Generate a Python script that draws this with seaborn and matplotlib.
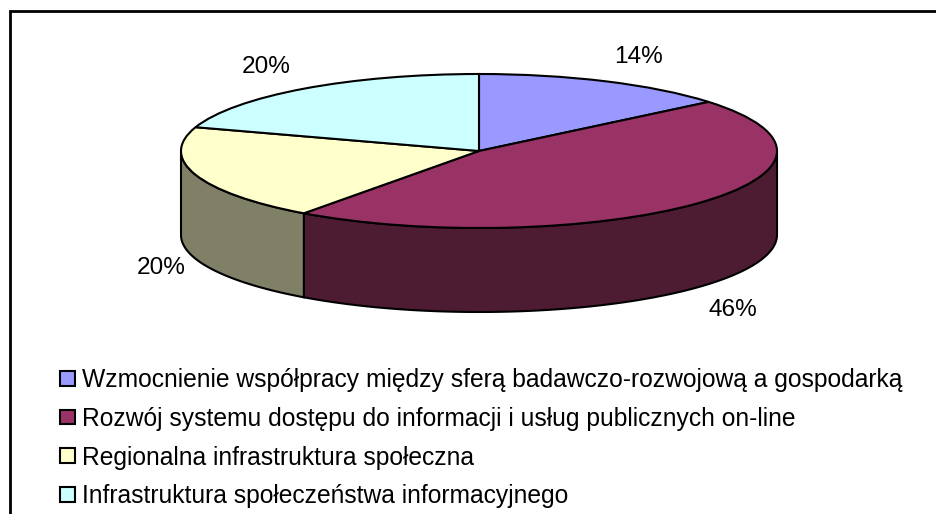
import numpy as np
import seaborn as sns
import matplotlib.pyplot as plt
from matplotlib.lines import Line2D

categories = [
    "Wzmocnienie współpracy między sferą badawczo-rozwojową a gospodarką",
    "Rozwój systemu dostępu do informacji i usług publicznych on-line",
    "Regionalna infrastruktura społeczna",
    "Infrastruktura społeczeństwa informacyjnego",
]
values = [14, 46, 20, 20]
top_colors = ["#9999FF", "#993366", "#FFFFCC", "#CCFFFF"]
side_colors = ["#4D4D80", "#4D1C33", "#808066", "#668080"]

W, H = 936, 514

sns.set_theme(style="white")
plt.rcParams["font.family"] = ["Liberation Sans", "DejaVu Sans"]

fig = plt.figure(figsize=(W / 100, H / 100), dpi=100)
fig.patch.set_facecolor("white")

# chart frame, only left and top are inside the crop
fig.add_artist(Line2D([9.5 / W, 9.5 / W, 1], [0, 1 - 11 / H, 1 - 11 / H], transform=fig.transFigure,
                      color="black", linewidth=2.0, solid_joinstyle="miter"))

# squashed axes turn the pie into the ellipse of the fake 3D look
cx, cy, rx, ry = 479, 151, 298, 77
ax = fig.add_axes([(cx - rx) / W, 1 - (cy + ry) / H, 2 * rx / W, 2 * ry / H])
wedges, _ = ax.pie(values, colors=top_colors, startangle=90, counterclock=False,
                   wedgeprops={"edgecolor": "black", "linewidth": 1.5, "zorder": 3})
ax.set_aspect("auto")
ax.set_xlim(-1, 1)
ax.set_ylim(-1, 1)
ax.axis("off")

# side wall, only the front half (90-270 degrees clockwise from the top) shows
depth = 84 / ry
edges = np.cumsum([0] + values) / sum(values) * 360
for start, end, color in zip(edges[:-1], edges[1:], side_colors):
    a, b = max(start, 90), min(end, 270)
    if a >= b:
        continue
    t = np.radians(np.linspace(a, b, 80))
    xs = np.r_[np.sin(t), np.sin(t[::-1])]
    ys = np.r_[np.cos(t), np.cos(t[::-1]) - depth]
    ax.fill(xs, ys, facecolor=color, edgecolor="black", linewidth=1.5, zorder=2, clip_on=False)

for wedge in wedges:
    wedge.set_clip_on(False)

# percent labels
label_pos = [(638, 57), (733, 310), (161, 268), (266, 67)]
for v, (px, py) in zip(values, label_pos):
    fig.text(px / W, 1 - py / H, f"{v}%", ha="center", va="center", fontsize=17.6, color="black")

fig.legend(wedges, categories, loc="upper left", bbox_to_anchor=(60 / W, 1 - 368 / H),
           frameon=False, fontsize=17.7, handlelength=0.6, handleheight=0.55,
           handletextpad=0.3, labelspacing=0.6, borderpad=0, borderaxespad=0, labelcolor="black")

fig.savefig("out.png", dpi=100)
